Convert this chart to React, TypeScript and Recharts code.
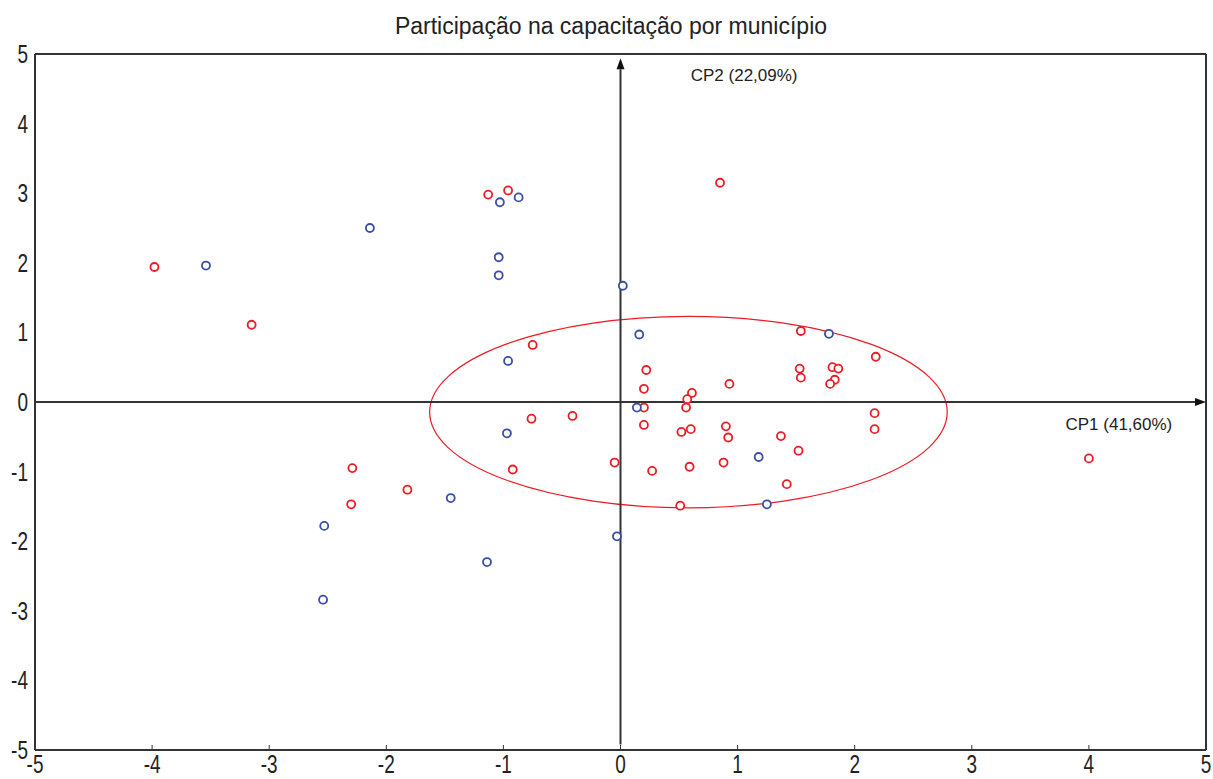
import React from "react";
import {
  ScatterChart,
  Scatter,
  XAxis,
  YAxis,
  ReferenceArea,
  ReferenceLine,
  ReferenceDot,
} from "recharts";

// municipality scores on the first two principal components [CP1, CP2]
const redScores: [number, number][] = [
  [-3.98, 1.94], [-3.15, 1.11], [-1.13, 2.98], [-0.96, 3.04], [0.85, 3.15],
  [-0.75, 0.82], [-0.76, -0.24], [-0.41, -0.2], [-0.92, -0.97], [-0.05, -0.87],
  [-2.29, -0.95], [-2.3, -1.47], [-1.82, -1.26],
  [0.22, 0.46], [0.2, 0.19], [0.2, -0.08], [0.2, -0.33], [0.61, 0.13],
  [0.57, 0.04], [0.56, -0.08], [0.52, -0.43], [0.6, -0.39], [0.27, -0.99],
  [0.59, -0.93], [0.51, -1.49], [0.93, 0.26], [0.9, -0.35], [0.92, -0.51],
  [0.88, -0.87], [1.37, -0.49], [1.52, -0.7], [1.42, -1.18], [1.54, 1.02],
  [1.53, 0.48], [1.54, 0.35], [1.81, 0.5], [1.86, 0.48], [1.83, 0.32],
  [1.79, 0.26], [2.18, 0.65], [2.17, -0.16], [2.17, -0.39], [4.0, -0.81],
];

const blueScores: [number, number][] = [
  [-3.54, 1.96], [-2.14, 2.5], [-1.03, 2.87], [-0.87, 2.94], [-1.04, 2.08],
  [-1.04, 1.82], [0.02, 1.67], [0.16, 0.97], [-0.96, 0.59], [0.14, -0.08],
  [-0.97, -0.45], [1.18, -0.79], [1.25, -1.47], [-0.03, -1.93], [-1.14, -2.3],
  [-1.45, -1.38], [-2.53, -1.78], [-2.54, -2.84], [1.78, 0.98],
];

// bounding box of the red group's ellipse (CP1 min/max, CP2 min/max)
const ellipseCp1: [number, number] = [-1.63, 2.79];
const ellipseCp2: [number, number] = [-1.52, 1.23];

const axisTicks = [-5, -4, -3, -2, -1, 0, 1, 2, 3, 4, 5];

const RED = "#ec1c24";
const BLUE = "#3a4ea6";
const INK = "#333";
const labelFont = "'Liberation Sans', Arial, sans-serif";

const toPoints = (rows: [number, number][]) => rows.map(([x, y]) => ({ x, y }));

const ring = (color: string) => (p: any) =>
  <circle cx={p.cx} cy={p.cy} r={4} fill="#fff" stroke={color} strokeWidth={1.8} />;

// tall, condensed digits for the axis numbers
function TickText({ x, y, anchor, children }: any) {
  return (
    <text
      transform={`translate(${x},${y}) scale(0.76,1)`}
      textAnchor={anchor}
      fontSize={25}
      fill="#222"
      fontFamily={labelFont}
    >
      {children}
    </text>
  );
}

function XTick({ x, y, payload }: any) {
  return (
    <g>
      <line x1={x} y1={y} x2={x} y2={y - 5} stroke={INK} strokeWidth={1} />
      <TickText x={x} y={y + 23} anchor="middle">{payload.value}</TickText>
    </g>
  );
}

function YTick({ x, y, payload }: any) {
  return <TickText x={x} y={y + 9} anchor="end">{payload.value}</TickText>;
}

// axis line with a filled arrowhead at its far end
const arrowLine = (p: any) => {
  const { x1, y1, x2, y2 } = p;
  const ang = Math.atan2(y2 - y1, x2 - x1);
  const len = 11;
  const half = 4;
  const bx = x2 - len * Math.cos(ang);
  const by = y2 - len * Math.sin(ang);
  const nx = -Math.sin(ang) * half;
  const ny = Math.cos(ang) * half;
  return (
    <g>
      <line x1={x1} y1={y1} x2={bx} y2={by} stroke={INK} strokeWidth={2} />
      <polygon points={`${x2},${y2} ${bx + nx},${by + ny} ${bx - nx},${by - ny}`} fill="#111" />
    </g>
  );
};

const ellipseShape = (p: any) => (
  <ellipse
    cx={p.x + p.width / 2}
    cy={p.y + p.height / 2}
    rx={Math.abs(p.width) / 2}
    ry={Math.abs(p.height) / 2}
    fill="none"
    stroke={RED}
    strokeWidth={1.2}
  />
);

const axisLabel = (text: string) => (p: any) =>
  <text x={p.cx} y={p.cy} fontSize={17} fill="#222" fontFamily={labelFont} dominantBaseline="middle">
    {text}
  </text>;

export default function App() {
  return (
    <div style={{ position: "absolute", left: 0, top: 0, width: 1213, height: 779, background: "#fff" }}>
      <div
        style={{
          position: "absolute",
          left: 0,
          top: 13,
          width: 1222,
          textAlign: "center",
          fontFamily: labelFont,
          fontSize: 23,
          color: "#222",
        }}
      >
        Participação na capacitação por município
      </div>
      <ScatterChart width={1213} height={779} margin={{ top: 54, right: 7, bottom: 0, left: 0 }}>
        <XAxis
          type="number"
          dataKey="x"
          domain={[-5, 5]}
          ticks={axisTicks}
          interval={0}
          allowDataOverflow
          height={29}
          tickSize={0}
          tickMargin={0}
          tickLine={false}
          axisLine={{ stroke: INK, strokeWidth: 2 }}
          tick={<XTick />}
        />
        <YAxis
          type="number"
          dataKey="y"
          domain={[-5, 5]}
          ticks={axisTicks}
          interval={0}
          allowDataOverflow
          width={35}
          tickSize={0}
          tickMargin={7}
          tickLine={false}
          axisLine={{ stroke: INK, strokeWidth: 2 }}
          tick={<YTick />}
        />
        <ReferenceLine y={5} stroke={INK} strokeWidth={2} />
        <ReferenceLine x={5} stroke={INK} strokeWidth={2} />
        <ReferenceArea
          x1={ellipseCp1[0]}
          x2={ellipseCp1[1]}
          y1={ellipseCp2[0]}
          y2={ellipseCp2[1]}
          shape={ellipseShape}
        />
        <ReferenceLine segment={[{ x: -5, y: 0 }, { x: 5, y: 0 }]} shape={arrowLine} />
        <ReferenceLine segment={[{ x: 0, y: -4.92 }, { x: 0, y: 4.94 }]} shape={arrowLine} />
        <ReferenceDot x={0.6} y={4.67} r={0} shape={axisLabel("CP2 (22,09%)")} />
        <ReferenceDot x={3.8} y={-0.34} r={0} shape={axisLabel("CP1 (41,60%)")} />
        <Scatter data={toPoints(redScores)} shape={ring(RED)} isAnimationActive={false} />
        <Scatter data={toPoints(blueScores)} shape={ring(BLUE)} isAnimationActive={false} />
      </ScatterChart>
    </div>
  );
}
